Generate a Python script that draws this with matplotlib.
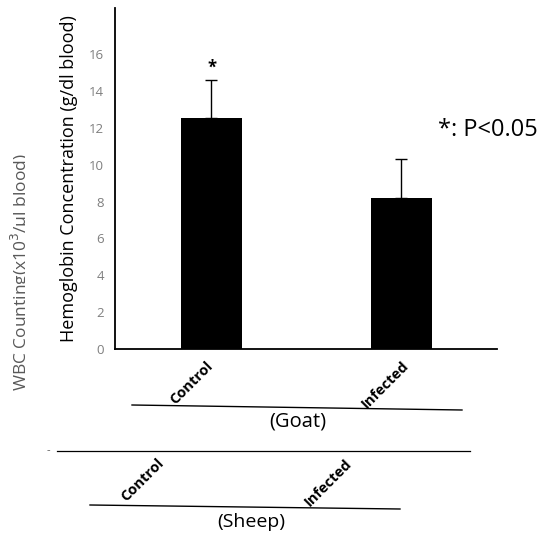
import matplotlib
matplotlib.use("Agg")
import matplotlib.pyplot as plt
import matplotlib.transforms as mtransforms
from matplotlib.lines import Line2D

plt.rcParams['font.family'] = ['Open Sans', 'DejaVu Sans']

categories = ["Control", "Infected"]
means = [12.55, 8.2]
errors = [2.05, 2.1]
yticks = [0, 2, 4, 6, 8, 10, 12, 14, 16]
sheep_labels = ["Control", "Infected"]

W, H = 539, 535
fig = plt.figure(figsize=(W/100, H/100), dpi=100)

def fx(px):
    return px / W

def fy(py):
    return 1 - py / H

ax = fig.add_axes([fx(115), fy(349), fx(497) - fx(115), fy(8) - fy(349)])
x = list(range(len(categories)))
ax.bar(x, means, width=0.32, color='black')
ax.errorbar(x, means, yerr=[[0, 0], errors], fmt='none', ecolor='black',
            elinewidth=1, capsize=4, capthick=1)
ax.text(0, means[0] + errors[0] + 0.65, '*', ha='center', va='center', fontsize=12, fontweight='bold')
ax.set_xlim(-0.508, 1.503)
ax.set_ylim(0, 18.5)
ax.set_yticks(yticks)
ax.set_yticklabels([str(t) for t in yticks], color='#7f7f7f', fontsize=9.5)
ax.tick_params(axis='y', length=0, pad=8)
ax.set_xticks(x)
ax.set_xticklabels(categories, rotation=45, ha='right', rotation_mode='anchor',
                   fontsize=10.5, fontweight='bold')
ax.tick_params(axis='x', length=0, pad=7)
lab0 = ax.get_xticklabels()[0]
lab0.set_transform(lab0.get_transform() + mtransforms.ScaledTranslation(-6/100, 0, fig.dpi_scale_trans))
for s in ['top', 'right']:
    ax.spines[s].set_visible(False)
ax.spines['left'].set_linewidth(1.3)
ax.spines['bottom'].set_linewidth(1.3)
ax.set_ylabel('Hemoglobin Concentration (g/dl blood)', fontsize=13, labelpad=8)

# second (partially hidden) y label, clipped on its right side
wbc = fig.text(fx(21), fy(272), 'WBC Counting(x10$^3$/\u00b5l blood)', rotation=90,
               ha='center', va='center', fontsize=12.5, color='#595959')
clip = plt.Rectangle((0, 0), fx(25), 1, transform=fig.transFigure, visible=False)
fig.add_artist(clip)
wbc.set_clip_path(clip)

fig.text(fx(438), fy(130), '*: P<0.05', fontsize=17, ha='left', va='center')

# Goat group line
fig.add_artist(Line2D([fx(132), fx(462)], [fy(405), fy(410)], color='black', lw=1))
fig.text(fx(298), fy(422), '(Goat)', fontsize=14.5, ha='center', va='center')

# Sheep axis line
fig.add_artist(Line2D([fx(57), fx(470)], [fy(451), fy(451)], color='black', lw=0.9))
fig.text(fx(48), fy(451), '-', fontsize=8, ha='center', va='center', color='#595959')
sheep_x = [157, 345]
for lab, px in zip(sheep_labels, sheep_x):
    fig.text(fx(px), fy(456), lab, rotation=45, ha='right', va='top',
             rotation_mode='anchor', fontsize=10.5, fontweight='bold')
fig.add_artist(Line2D([fx(90), fx(400)], [fy(505), fy(509)], color='black', lw=1))
fig.text(fx(251), fy(522), '(Sheep)', fontsize=14, ha='center', va='center')

fig.savefig('out.png', dpi=100)
